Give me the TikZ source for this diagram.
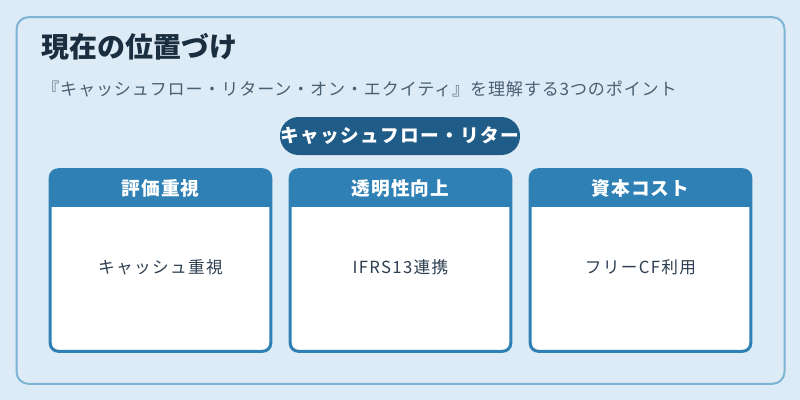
\documentclass[tikz,border=0pt]{standalone}
\usepackage{fontspec}
\setmainfont{Noto Sans CJK JP}
\usetikzlibrary{calc}
\definecolor{pagebg}{HTML}{DCEBF6}
\definecolor{framec}{HTML}{7FB3D5}
\definecolor{titlec}{HTML}{1B2E3F}
\definecolor{subc}{HTML}{4A6073}
\definecolor{pillc}{HTML}{1F5C88}
\definecolor{hdrc}{HTML}{2E80B5}
\definecolor{bodyc}{HTML}{2C3E50}

\begin{document}
\begin{tikzpicture}[x=0.75pt,y=-0.75pt,
  frame/.style={draw=framec,line width=1.5pt,fill=pagebg,rounded corners=9pt,
    minimum width=576pt,minimum height=275pt,inner sep=0pt},
  pill/.style={fill=pillc,rounded corners=14pt,minimum width=180pt,minimum height=28.5pt,
    inner sep=0pt,text=white,font=\fontsize{14}{16}\selectfont\bfseries\addfontfeatures{LetterSpace=7}},
  card/.style={fill=white,rounded corners=6pt,minimum width=165pt,minimum height=135.75pt,inner sep=0pt},
  cardline/.style={draw=hdrc,line width=2.25pt,rounded corners=6pt},
  cardhead/.style={text=white,font=\fontsize{14}{16}\selectfont\bfseries\addfontfeatures{LetterSpace=6},inner sep=0pt},
  cardtext/.style={text=bodyc,font=\fontsize{12.5}{14}\selectfont\addfontfeatures{LetterSpace=8},inner sep=0pt}]
  \fill[pagebg] (0,0) rectangle (800,400);
  \useasboundingbox (0,0) rectangle (800,400);
  \node[frame] (frame) at (400.5,200.5) {};
  \node[anchor=west,inner sep=0pt,text=titlec,font=\fontsize{21}{25}\selectfont\bfseries] (title) at (41,47) {現在の位置づけ};
  \node[anchor=west,inner sep=0pt,text=subc,font=\fontsize{12.8}{15}\selectfont\addfontfeatures{LetterSpace=5}] (sub) at (42,89)
    {『キャッシュフロー・リターン・オン・エクイティ』を理解する3つのポイント};
  \node[pill] (pill) at (400,136) {キャッシュフロー・リター};
  % cards
  \node[card] (card1) at (160.5,260.5) {};
  \node[card] (card2) at (400.5,260.5) {};
  \node[card] (card3) at (640.5,260.5) {};
  \begin{scope}
    \clip[rounded corners=6pt] (card1.north west) rectangle (card1.south east);
    \fill[hdrc] (card1.north west) rectangle ($(card1.north east)+(0,37)$);
  \end{scope}
  \begin{scope}
    \clip[rounded corners=6pt] (card2.north west) rectangle (card2.south east);
    \fill[hdrc] (card2.north west) rectangle ($(card2.north east)+(0,37)$);
  \end{scope}
  \begin{scope}
    \clip[rounded corners=6pt] (card3.north west) rectangle (card3.south east);
    \fill[hdrc] (card3.north west) rectangle ($(card3.north east)+(0,37)$);
  \end{scope}
  \draw[cardline] (card1.north west) rectangle (card1.south east);
  \draw[cardline] (card2.north west) rectangle (card2.south east);
  \draw[cardline] (card3.north west) rectangle (card3.south east);
  \node[cardhead] (head1) at (160.5,188.5) {評価重視};
  \node[cardhead] (head2) at (400.5,188.5) {透明性向上};
  \node[cardhead] (head3) at (640.5,188.5) {資本コスト};
  \node[cardtext] (text1) at (160.5,267) {キャッシュ重視};
  \node[cardtext] (text2) at (400.5,267) {IFRS13連携};
  \node[cardtext] (text3) at (640.5,267) {フリーCF利用};
\end{tikzpicture}
\end{document}
